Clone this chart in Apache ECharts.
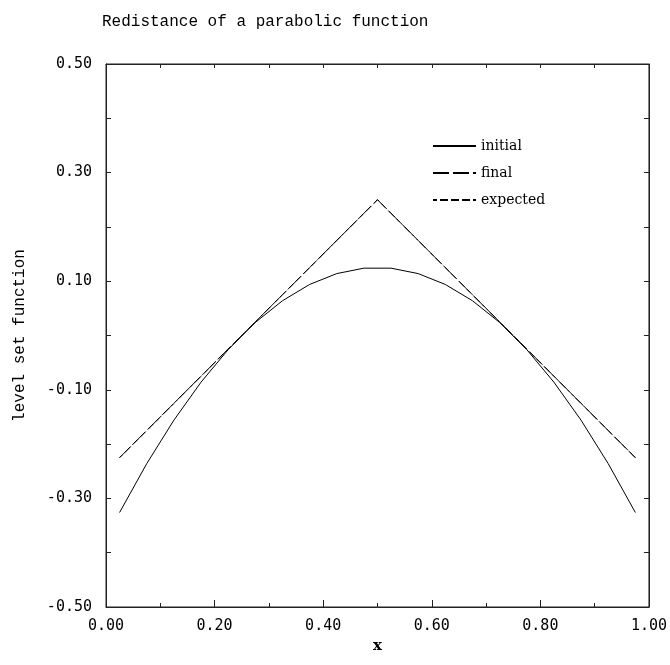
<!DOCTYPE html>
<html>
<head>
<meta charset="utf-8">
<script src="https://cdn.jsdelivr.net/npm/echarts@6/dist/echarts.min.js"></script>
<style>
  html, body { margin: 0; padding: 0; background: #fff; }
  #chart { width: 670px; height: 665px; }
</style>
</head>
<body>
<div id="chart"></div>
<script>
// cell centres for the initial parabola
var xInitial = [0.025, 0.075, 0.125, 0.175, 0.225, 0.275, 0.325, 0.375, 0.425, 0.475,
                0.525, 0.575, 0.625, 0.675, 0.725, 0.775, 0.825, 0.875, 0.925, 0.975];
var initialValues = [-0.326, -0.236, -0.156, -0.086, -0.026, 0.024, 0.064, 0.094, 0.114, 0.124,
                     0.124, 0.114, 0.094, 0.064, 0.024, -0.026, -0.086, -0.156, -0.236, -0.326];

// final / expected include the kink at x = 0.5
var xLevel = [0.025, 0.075, 0.125, 0.175, 0.225, 0.275, 0.325, 0.375, 0.425, 0.475, 0.5,
              0.525, 0.575, 0.625, 0.675, 0.725, 0.775, 0.825, 0.875, 0.925, 0.975];
var finalValues = [-0.225, -0.175, -0.125, -0.075, -0.025, 0.025, 0.075, 0.125, 0.175, 0.225, 0.25,
                   0.225, 0.175, 0.125, 0.075, 0.025, -0.025, -0.075, -0.125, -0.175, -0.225];
var expectedValues = [-0.225, -0.175, -0.125, -0.075, -0.025, 0.025, 0.075, 0.125, 0.175, 0.225, 0.25,
                      0.225, 0.175, 0.125, 0.075, 0.025, -0.025, -0.075, -0.125, -0.175, -0.225];

var seriesNames = ['initial', 'final', 'expected'];

function pairs(xs, ys) {
    return xs.map(function (x, i) { return [x, ys[i]]; });
}

var monoFont = '"Liberation Mono", "DejaVu Sans Mono", monospace';
var tickFont = '"DejaVu Sans Mono", monospace';
var serifFont = '"DejaVu Serif", "Liberation Serif", serif';
var frame = '#222';

var chart = echarts.init(document.getElementById('chart'), null, { renderer: 'canvas' });

var option = {
    backgroundColor: '#fff',
    animation: false,
    title: {
        text: 'Redistance of a parabolic function',
        left: 97,
        top: 9,
        textStyle: { fontFamily: monoFont, fontSize: 16, fontWeight: 'normal', color: '#000' }
    },
    legend: {
        data: seriesNames,
        orient: 'vertical',
        left: 427,
        top: 134,
        itemWidth: 43,
        itemHeight: 14,
        itemGap: 13,
        itemStyle: { opacity: 0 },
        textStyle: { fontFamily: serifFont, fontSize: 14, color: '#000' }
    },
    grid: {
        left: 106,
        right: 20,
        top: 64,
        bottom: 58,
        show: true,
        borderColor: frame,
        borderWidth: 1
    },
    xAxis: [
        {
            type: 'value',
            position: 'bottom',
            min: 0,
            max: 1,
            interval: 0.2,
            name: 'x',
            nameLocation: 'middle',
            nameGap: 21,
            nameTextStyle: { fontFamily: serifFont, fontSize: 15, fontWeight: 'bold', color: '#000' },
            axisLine: { show: true, onZero: false, lineStyle: { color: frame } },
            axisTick: { show: true, inside: true, length: 7, lineStyle: { color: frame } },
            minorTick: { show: true, splitNumber: 2, length: 4, lineStyle: { color: frame } },
            splitLine: { show: false },
            axisLabel: {
                margin: 12,
                fontFamily: tickFont, fontSize: 15, color: '#000',
                formatter: function (v) { return v.toFixed(2); }
            }
        },
        {
            type: 'value',
            position: 'top',
            min: 0,
            max: 1,
            interval: 0.1,
            axisLine: { show: true, onZero: false, lineStyle: { color: frame } },
            axisTick: { show: true, inside: true, length: 4, lineStyle: { color: frame } },
            splitLine: { show: false },
            axisLabel: { show: false }
        }
    ],
    yAxis: [
        {
            type: 'value',
            position: 'left',
            min: -0.5,
            max: 0.5,
            interval: 0.1,
            name: 'level set function',
            nameLocation: 'middle',
            nameRotate: 90,
            nameGap: 78,
            nameTextStyle: { fontFamily: monoFont, fontSize: 16, color: '#000' },
            axisLine: { show: true, onZero: false, lineStyle: { color: frame } },
            axisTick: { show: true, inside: true, length: 5, lineStyle: { color: frame } },
            splitLine: { show: false },
            axisLabel: {
                margin: 14,
                fontFamily: tickFont, fontSize: 15, color: '#000',
                formatter: function (v) {
                    var k = Math.round(v * 10);
                    return (k % 2 !== 0) ? v.toFixed(2) : '';
                }
            }
        },
        {
            type: 'value',
            position: 'right',
            min: -0.5,
            max: 0.5,
            interval: 0.1,
            axisLine: { show: true, onZero: false, lineStyle: { color: frame } },
            axisTick: { show: true, inside: true, length: 5, lineStyle: { color: frame } },
            splitLine: { show: false },
            axisLabel: { show: false }
        }
    ],
    series: [
        {
            name: seriesNames[0],
            type: 'line',
            data: pairs(xInitial, initialValues),
            symbol: 'none',
            showSymbol: false,
            lineStyle: { color: '#000', width: 1, type: 'solid' },
            itemStyle: { color: '#000' }
        },
        {
            name: seriesNames[1],
            type: 'line',
            data: pairs(xLevel, finalValues),
            symbol: 'none',
            showSymbol: false,
            lineStyle: { color: '#000', width: 1, type: [16, 4] },
            itemStyle: { color: '#000' }
        },
        {
            name: seriesNames[2],
            type: 'line',
            data: pairs(xLevel, expectedValues),
            symbol: 'none',
            showSymbol: false,
            lineStyle: { color: '#000', width: 1, type: [8, 3], dashOffset: 4 },
            itemStyle: { color: '#000' }
        }
    ]
};

chart.setOption(option);
</script>
</body>
</html>
